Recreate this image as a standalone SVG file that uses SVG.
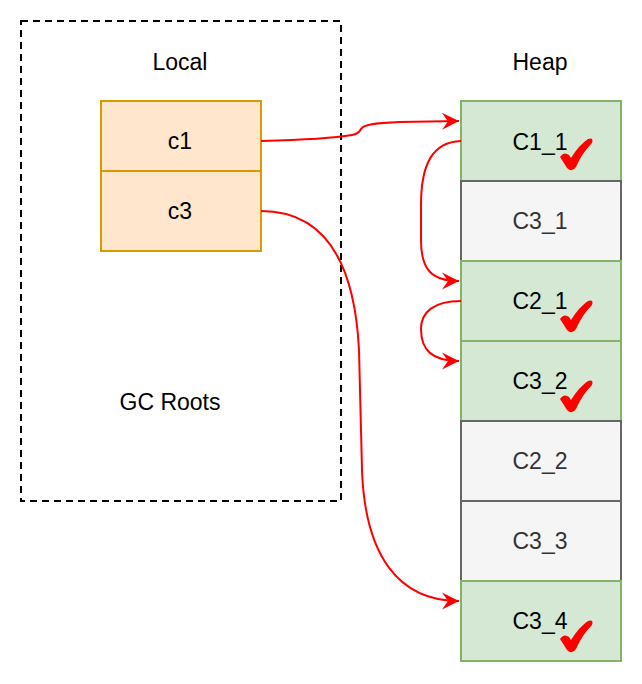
<svg xmlns="http://www.w3.org/2000/svg" width="642" height="684" viewBox="0 0 642 684">
<style>
text{font-family:"Liberation Sans",Arial,sans-serif;font-size:23px;text-anchor:middle;fill:#000}
.g{fill:#d5e8d4;stroke:#82b366;stroke-width:2}
.w{fill:#f5f5f5;stroke:#666;stroke-width:2}
.o{fill:#ffe6cc;stroke:#d79b00;stroke-width:2}
.gt{fill:#333}
.e{fill:none;stroke:#ff0000;stroke-width:2}
</style>
<defs>
<marker id="ah" markerUnits="userSpaceOnUse" markerWidth="20" markerHeight="20" viewBox="-18 -10 20 20" refX="0" refY="0" orient="auto">
<path d="M0,0 L-17,-8.5 L-11,0 L-17,8.5 Z" fill="#ff0000"/>
</marker>
<path id="chk" d="M0,19 Q4,13 9,17 L11,20 Q19,7 28,1 Q34,-1 32,5 Q22,15 16,29 Q12,35 7,30 Q4,25 0,19 Z" fill="#ff0000"/>
</defs>
<g id="gcroots">
<rect x="21" y="21" width="320" height="480" fill="none" stroke="#000" stroke-width="2" stroke-dasharray="7 5"/>
<text x="180" y="70">Local</text>
<text x="170" y="410">GC Roots</text>
</g>
<g id="c1"><rect class="o" x="101" y="101" width="160" height="70"/><text x="180" y="149">c1</text></g>
<g id="c3"><rect class="o" x="101" y="171" width="160" height="80"/><text x="180" y="219">c3</text></g>
<g id="heap-label"><text x="540" y="70">Heap</text></g>
<g id="C1_1"><rect class="g" x="461" y="101" width="160" height="80"/><text x="540" y="150">C1_1</text><use href="#chk" x="560" y="138"/></g>
<g id="C3_1"><rect class="w" x="461" y="181" width="160" height="80"/><text class="gt" x="540" y="229">C3_1</text></g>
<g id="C2_1"><rect class="g" x="461" y="261" width="160" height="80"/><text x="540" y="309">C2_1</text><use href="#chk" x="560" y="300"/></g>
<g id="C3_2"><rect class="g" x="461" y="341" width="160" height="80"/><text x="540" y="389">C3_2</text><use href="#chk" x="560" y="380"/></g>
<g id="C2_2"><rect class="w" x="461" y="421" width="160" height="80"/><text class="gt" x="540" y="469">C2_2</text></g>
<g id="C3_3"><rect class="w" x="461" y="501" width="160" height="80"/><text class="gt" x="540" y="549">C3_3</text></g>
<g id="C3_4"><rect class="g" x="461" y="581" width="160" height="80"/><text x="540" y="629">C3_4</text><use href="#chk" x="560" y="620"/></g>
<g id="connectors">
<path class="e" marker-end="url(#ah)" d="M261,141 C300,140 335,138 352,135 C358,134 360,131 361,129 C363,125 372,123 400,122 L459,121"/>
<path class="e" marker-end="url(#ah)" d="M461,141 C432,142 421,165 421,205 L421,240 C421,268 430,281 459,281"/>
<path class="e" marker-end="url(#ah)" d="M461,301 C434,301 421,312 421,329 C421,350 432,361 459,361"/>
<path class="e" marker-end="url(#ah)" d="M261,211 C330,211 355,270 359,350 L362,470 C365,555 398,601 459,601"/>
</g>
</svg>
